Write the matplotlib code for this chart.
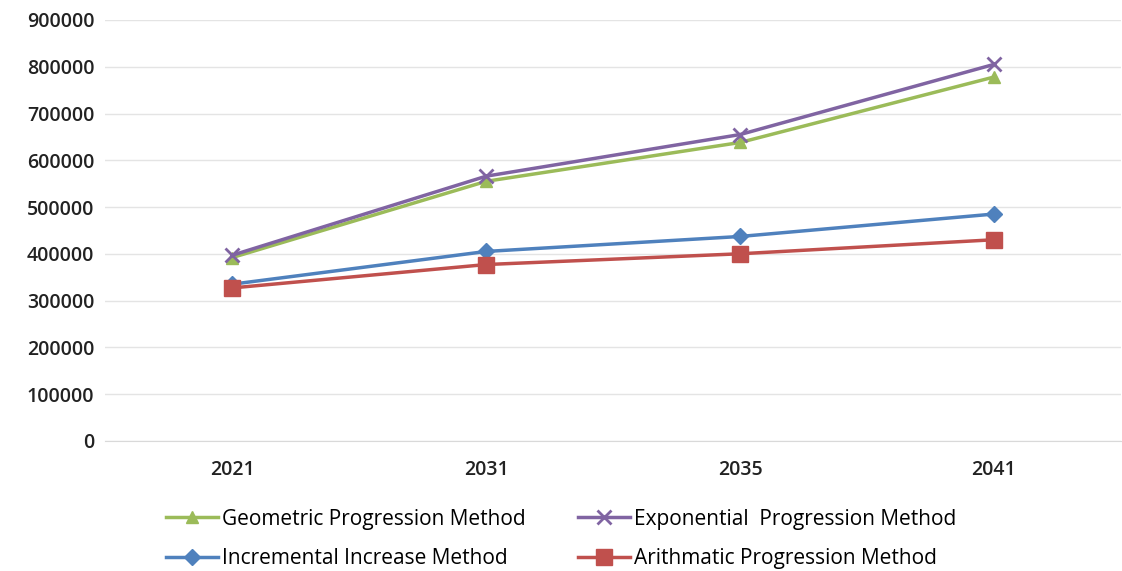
import matplotlib
matplotlib.use("Agg")
from matplotlib import pyplot as plt
import numpy as np

# donnees
years = ['2021', '2031', '2035', '2041']
geometric = [392000, 555000, 638000, 778000]
exponential = [397000, 566000, 655000, 805000]
incremental = [335000, 405000, 437000, 485000]
arithmatic = [327000, 377000, 400000, 430000]

plt.rcParams['font.family'] = ['Open Sans', 'DejaVu Sans']

fig = plt.figure(figsize=(11.22, 5.71), dpi=100)
ax = fig.add_axes([0.094, 0.228, 0.905, 0.737])

x = np.arange(len(years))
l_geo, = ax.plot(x, geometric, color='#9BBB59', lw=2.5, marker='^', ms=9, label='Geometric Progression Method')
l_exp, = ax.plot(x, exponential, color='#8064A2', lw=2.5, marker='x', ms=10, mew=2, label='Exponential  Progression Method')
l_inc, = ax.plot(x, incremental, color='#4F81BD', lw=2.5, marker='D', ms=8, label='Incremental Increase Method')
l_ari, = ax.plot(x, arithmatic, color='#C0504D', lw=2.5, marker='s', ms=11, label='Arithmatic Progression Method')

ax.set_xlim(-0.5, len(years) - 0.5)
ax.set_ylim(0, 900000)
ax.set_yticks(np.arange(0, 900001, 100000))
ax.set_yticklabels([str(v) for v in range(0, 900001, 100000)])
ax.set_xticks(x)
ax.set_xticklabels(years)
ax.tick_params(axis='both', length=0, labelsize=14, labelcolor='#222222', pad=8)
ax.tick_params(axis='x', pad=14)
for lab in ax.get_xticklabels() + ax.get_yticklabels():
    lab.set_fontweight('semibold')
ax.grid(axis='y', color='#e4e4e4', lw=1)
ax.set_axisbelow(True)
for s in ['top', 'right', 'left']:
    ax.spines[s].set_visible(False)
ax.spines['bottom'].set_color('#d9d9d9')

# ordre du legende: ligne 1 geo / exp, ligne 2 inc / ari
handles = [l_geo, l_inc, l_exp, l_ari]
fig.legend(handles, [h.get_label() for h in handles], loc='lower center',
           bbox_to_anchor=(0.5, -0.03), ncol=2, frameon=False,
           fontsize=15, handlelength=2.5, handletextpad=0.2, columnspacing=2.5,
           labelspacing=0.9)

fig.savefig('out.png', dpi=100)
